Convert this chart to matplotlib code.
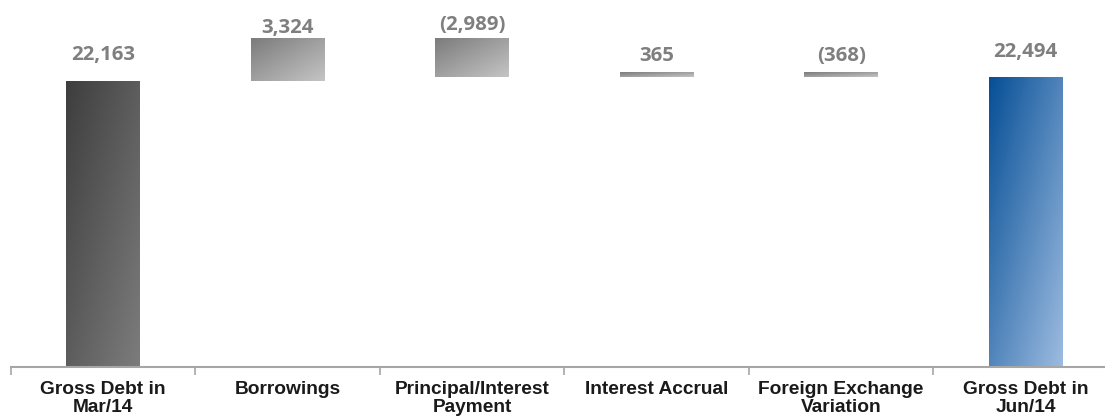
import matplotlib
matplotlib.use("Agg")
import matplotlib.pyplot as plt
import numpy as np
from matplotlib.colors import LinearSegmentedColormap

categories = [
    "Gross Debt in\nMar/14",
    "Borrowings",
    "Principal/Interest\nPayment",
    "Interest Accrual",
    "Foreign Exchange\nVariation",
    "Gross Debt in\nJun/14",
]
values = [22163, 3324, -2989, 365, -368, 22494]
is_total = [True, False, False, False, False, True]

# gap between bar top and value label baseline, in pixels
label_pad_px = [21, 5, 8, 11, 11, 20]

# (top-left colour, bottom-right colour) of each bar's gradient
grad_opening = ("#3e3e3e", "#7c7c7c")
grad_step = ("#7c7c7c", "#c4c4c4")
grad_closing = ("#064f96", "#9cbbe0")


def fmt(v):
    return f"{v:,}" if v >= 0 else f"({-v:,})"


W, H, DPI = 1105, 419, 100
fig = plt.figure(figsize=(W / DPI, H / DPI), dpi=DPI)
ax = fig.add_axes([11 / W, 52 / H, 1 - 11 / W, 367 / H])

# waterfall bottoms / heights
bottoms, heights = [], []
running = 0
for v, tot in zip(values, is_total):
    if tot:
        bottoms.append(0)
        heights.append(v)
        running = v
    else:
        bottoms.append(running if v >= 0 else running + v)
        heights.append(abs(v))
        running += v

x = np.arange(len(categories))
bars = ax.bar(x, heights, bottom=bottoms, width=0.4, color="none",
              edgecolor="none", zorder=2)

# diagonal gradient fill clipped to each bar (dark top-left -> light bottom-right)
u, w = np.meshgrid(np.linspace(0, 1, 64), np.linspace(0, 1, 64))
grad = (u + w) / 2
for i, bar in enumerate(bars):
    if i == len(bars) - 1:
        cols = grad_closing
    elif is_total[i]:
        cols = grad_opening
    else:
        cols = grad_step
    cmap = LinearSegmentedColormap.from_list(f"g{i}", list(cols))
    x0, y0 = bar.get_x(), bar.get_y()
    im = ax.imshow(grad, cmap=cmap, vmin=0, vmax=1, aspect="auto", origin="upper",
                   extent=(x0, x0 + bar.get_width(), y0, y0 + bar.get_height()),
                   interpolation="bilinear", zorder=2)
    im.set_clip_path(bar)

    ax.annotate(fmt(values[i]), (bar.get_x() + bar.get_width() / 2, y0 + bar.get_height()),
                xytext=(0, label_pad_px[i] * 72 / DPI), textcoords="offset points",
                ha="center", va="baseline", fontsize=14.7, fontweight="bold",
                family="Open Sans", color="#7f7f7f")

for side in ("top", "right", "left"):
    ax.spines[side].set_visible(False)
ax.spines["bottom"].set_color("#a6a6a6")
ax.spines["bottom"].set_linewidth(1.5)
ax.set_yticks([])

ax.set_xticks(x)
ax.set_xticklabels(categories, fontsize=13.8, fontweight="bold",
                   family="Liberation Sans", color="#1a1a1a", linespacing=1.1)
ax.set_xticks(np.arange(-0.5, len(categories), 1.0), minor=True)
ax.tick_params(axis="x", which="major", length=0, pad=10)
ax.tick_params(axis="x", which="minor", length=6, width=1.2, color="#a6a6a6")

# limits set last so the separator ticks don't widen the view
ax.set_xlim(-0.5, 5.43)
ax.set_ylim(0, 28440)

fig.savefig("out.png", dpi=DPI)
plt.close(fig)
